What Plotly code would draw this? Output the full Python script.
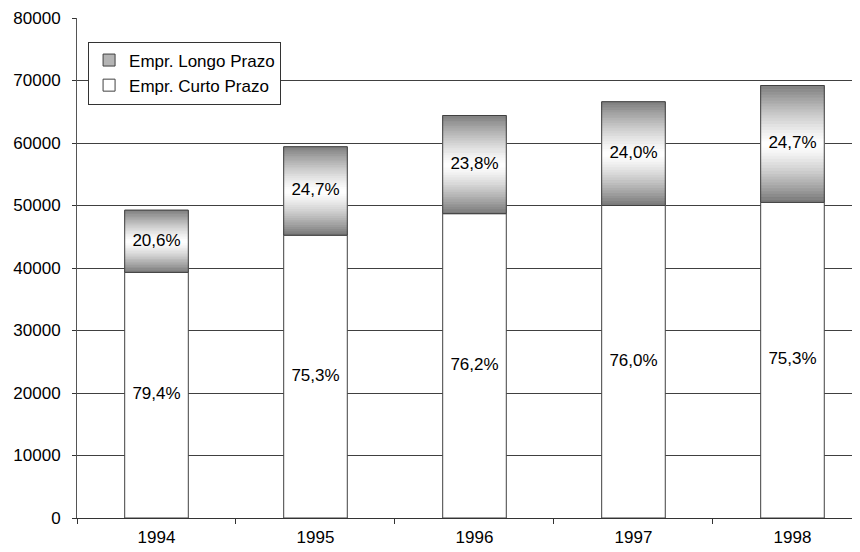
import plotly.graph_objects as go

years = ["1994", "1995", "1996", "1997", "1998"]
curto = [39300, 45250, 48700, 50000, 50500]
longo = [9950, 14150, 15700, 16600, 18700]
pct_curto = ["79,4%", "75,3%", "76,2%", "76,0%", "75,3%"]
pct_longo = ["20,6%", "24,7%", "23,8%", "24,0%", "24,7%"]
y_ticks = [0, 10000, 20000, 30000, 40000, 50000, 60000, 70000, 80000]

FONT = "Liberation Sans"
FS = 17
OUTLINE = "#404040"
N = 40
BAR_W = 0.4

fig = go.Figure()

# bottom segment (white)
fig.add_trace(go.Bar(
    x=years, y=curto, base=[0] * len(years), width=BAR_W,
    marker=dict(color="white", line=dict(color=OUTLINE, width=1)),
    name="Empr. Curto Prazo", legendrank=2, hoverinfo="skip",
))

# top segment: gradient made of thin slices
def gray(t):
    edge = 118 if t < 0.5 else 128
    g = 255 - (255 - edge) * abs(2 * t - 1) ** 1.3
    g = int(round(g))
    return f"rgb({g},{g},{g})"

for i in range(N):
    t = (i + 0.5) / N
    c = gray(t)
    fig.add_trace(go.Bar(
        x=years,
        y=[v / N for v in longo],
        base=[cu + v * i / N for cu, v in zip(curto, longo)],
        width=BAR_W,
        marker=dict(color=c, line=dict(color=c, width=1)),
        showlegend=False, hoverinfo="skip",
    ))

# outline of top segment
fig.add_trace(go.Bar(
    x=years, y=longo, base=curto, width=BAR_W,
    marker=dict(color="rgba(0,0,0,0)", line=dict(color=OUTLINE, width=1)),
    showlegend=False, hoverinfo="skip",
))

# legend entry for top segment
fig.add_trace(go.Bar(
    x=[None], y=[None], name="Empr. Longo Prazo", legendrank=1,
    marker=dict(color="#b4b4b4", line=dict(color=OUTLINE, width=1)),
))

# labels
fig.add_trace(go.Scatter(
    x=years, y=[c / 2 for c in curto], mode="text", text=pct_curto,
    textfont=dict(family=FONT, size=FS, color="black"),
    showlegend=False, hoverinfo="skip",
))
fig.add_trace(go.Scatter(
    x=years, y=[c + l / 2 for c, l in zip(curto, longo)], mode="text", text=pct_longo,
    textfont=dict(family=FONT, size=FS, color="black"),
    showlegend=False, hoverinfo="skip",
))

fig.update_layout(
    width=860, height=552,
    margin=dict(l=69, r=0, t=10, b=42, autoexpand=False),
    barmode="overlay",
    plot_bgcolor="white", paper_bgcolor="white",
    font=dict(family=FONT, size=FS, color="black"),
    legend=dict(
        x=0.014, y=0.953, xanchor="left", yanchor="top",
        bgcolor="white", bordercolor="#333333", borderwidth=1,
        font=dict(family=FONT, size=FS, color="black"),
        itemclick=False, tracegroupgap=0,
    ),
    xaxis=dict(
        type="category", range=[-0.5, 4.475], automargin=False,
        showgrid=False, showline=True, linecolor="#333333", linewidth=1,
        ticks="outside", tickson="boundaries", ticklen=5, tickcolor="#333333",
        ticklabelstandoff=4,
        tickfont=dict(family=FONT, size=FS, color="black"),
        zeroline=False,
    ),
    yaxis=dict(
        range=[0, 80000], tickvals=y_ticks, tickformat="d", automargin=False,
        showgrid=True, gridcolor="#404040", gridwidth=1,
        showline=True, linecolor="#555555", linewidth=1,
        ticks="outside", ticklen=4, tickcolor="#333333",
        ticklabelstandoff=8,
        tickfont=dict(family=FONT, size=FS, color="black"),
        zeroline=False,
    ),
)

fig.write_html("out.html")
